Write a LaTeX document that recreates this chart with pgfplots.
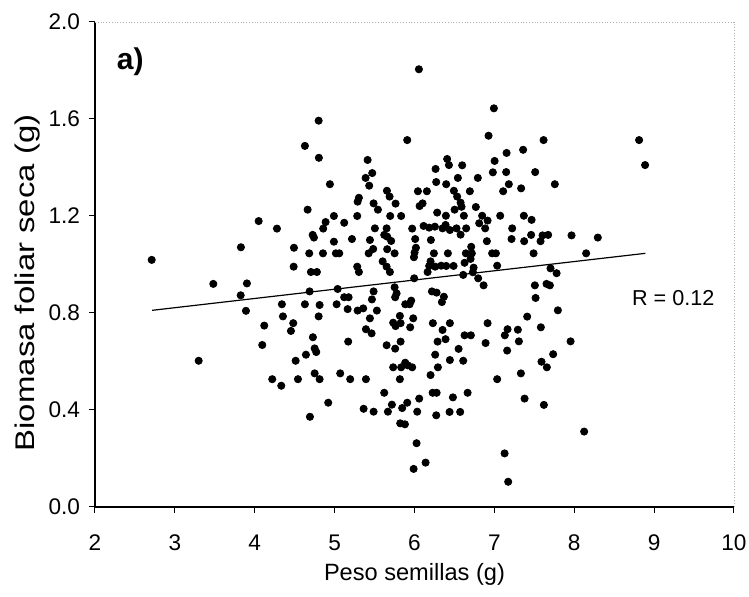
\documentclass[border=0pt]{standalone}
\usepackage{fontspec}
\setmainfont{Liberation Sans}
\newfontfamily\ylabfont{Liberation Sans}[FakeStretch=1.22]
\usepackage{pgfplots}
\usepackage{pgfplotstable}
\pgfplotsset{compat=1.18}
\pgfplotstableread{
x y
6.055 1.805
4.800 1.593
4.628 1.489
4.803 1.440
5.909 1.513
5.413 1.431
5.471 1.377
5.388 1.357
5.433 1.325
4.941 1.331
6.264 1.394
6.272 1.340
6.043 1.302
6.155 1.302
5.655 1.304
5.688 1.280
5.304 1.275
5.288 1.259
5.488 1.252
5.763 1.251
6.101 1.252
6.064 1.241
4.662 1.226
5.542 1.226
6.284 1.214
4.991 1.200
5.283 1.200
5.696 1.200
5.833 1.200
5.120 1.172
4.887 1.175
4.857 1.148
5.504 1.149
5.651 1.149
5.971 1.148
6.114 1.159
6.184 1.152
6.255 1.156
4.725 1.122
4.741 1.111
5.621 1.122
5.658 1.115
5.217 1.105
5.442 1.101
5.708 1.097
6.009 1.105
6.205 1.101
4.991 1.094
4.491 1.069
5.658 1.063
6.018 1.069
4.682 1.046
4.854 1.046
5.016 1.046
5.058 1.046
5.483 1.064
5.426 1.046
5.751 1.046
6.001 1.049
6.243 1.046
5.993 1.030
4.487 0.991
4.703 0.969
4.778 0.969
5.283 0.991
5.304 0.969
5.601 1.013
5.651 0.991
5.692 0.969
6.201 1.013
6.184 0.994
6.259 0.991
6.164 0.969
5.996 0.943
6.994 1.644
6.927 1.531
7.616 1.513
7.360 1.473
7.153 1.460
6.409 1.435
6.431 1.410
6.597 1.409
7.003 1.427
6.981 1.380
7.148 1.381
7.511 1.381
6.543 1.357
6.793 1.357
6.397 1.331
7.181 1.331
7.757 1.331
7.335 1.314
7.110 1.302
6.493 1.304
6.693 1.302
6.534 1.280
6.577 1.255
6.589 1.238
6.768 1.237
6.502 1.226
6.618 1.201
6.393 1.201
6.847 1.201
6.915 1.181
7.073 1.201
7.369 1.201
7.466 1.184
6.810 1.170
6.389 1.163
6.351 1.149
6.443 1.142
6.526 1.149
6.647 1.149
6.885 1.149
7.223 1.149
6.577 1.123
7.460 1.122
7.603 1.120
7.673 1.122
7.215 1.105
7.373 1.096
7.578 1.096
7.966 1.120
8.295 1.111
6.906 1.096
6.710 1.073
6.418 1.046
6.643 1.046
6.718 1.046
6.972 1.046
7.019 1.046
7.491 1.046
8.149 1.046
6.702 1.023
6.627 1.007
6.334 0.995
6.397 0.994
6.489 0.994
7.035 0.995
6.740 0.987
6.731 0.968
7.703 0.984
7.779 0.964
6.610 0.957
6.797 0.943
4.687 0.889
5.038 0.899
5.488 0.889
5.751 0.906
5.776 0.881
5.758 0.865
6.218 0.889
6.277 0.884
4.340 0.836
4.628 0.836
4.812 0.833
5.025 0.836
5.120 0.865
5.175 0.865
5.467 0.856
5.163 0.816
5.288 0.810
5.358 0.819
5.529 0.810
5.884 0.836
5.939 0.836
5.959 0.851
4.353 0.786
4.800 0.786
5.442 0.778
5.817 0.788
5.984 0.778
4.482 0.758
4.453 0.726
5.733 0.760
5.763 0.746
5.826 0.758
5.946 0.741
6.230 0.758
5.392 0.733
5.463 0.716
4.728 0.700
5.170 0.682
5.826 0.682
6.289 0.682
5.651 0.667
5.758 0.653
4.750 0.654
4.770 0.639
4.641 0.628
4.512 0.603
6.259 0.628
5.733 0.576
5.833 0.576
5.884 0.595
5.917 0.584
5.971 0.576
6.293 0.576
4.750 0.551
4.812 0.527
5.070 0.551
4.541 0.527
5.195 0.527
5.392 0.527
5.817 0.527
6.201 0.544
4.332 0.500
5.621 0.471
6.227 0.471
6.277 0.471
4.920 0.430
6.059 0.447
5.717 0.422
5.909 0.430
5.363 0.405
5.488 0.393
5.667 0.393
5.846 0.408
6.034 0.393
6.272 0.378
4.691 0.372
5.821 0.345
5.880 0.341
6.026 0.263
6.139 0.183
5.989 0.157
6.865 0.914
7.507 0.914
7.653 0.920
7.695 0.914
7.516 0.862
6.368 0.867
6.343 0.845
7.795 0.811
7.411 0.785
6.443 0.758
6.915 0.758
6.351 0.730
7.165 0.733
7.131 0.708
7.294 0.731
7.582 0.741
6.627 0.708
6.706 0.708
6.389 0.692
6.890 0.676
7.307 0.683
7.954 0.683
6.552 0.652
7.160 0.645
7.736 0.630
6.443 0.606
6.610 0.603
7.590 0.599
7.657 0.576
7.035 0.527
7.332 0.551
6.481 0.452
6.665 0.471
7.378 0.447
7.620 0.421
6.439 0.392
6.572 0.392
8.124 0.311
7.128 0.221
7.173 0.104
8.812 1.513
8.887 1.410
2.710 1.019
3.827 1.071
4.049 1.179
4.278 1.148
3.481 0.920
3.902 0.922
3.824 0.873
3.890 0.809
3.298 0.603
4.119 0.748
4.094 0.668
4.219 0.527
}\seeds
\begin{document}
\begin{tikzpicture}
\begin{axis}[
  scale only axis, width=319.5pt, height=242.5pt,
  xmin=2, xmax=10, ymin=0, ymax=2,
  axis x line*=bottom, axis y line*=left,
  axis line style={line width=0.6pt, -},
  xtick={2,3,4,5,6,7,8,9,10},
  ytick={0,0.4,0.8,1.2,1.6,2.0},
  /pgf/number format/assume math mode=true,
  tick align=outside, major tick length=3pt,
  tick style={black, line width=0.5pt},
  ticklabel style={font=\fontsize{11.3}{13}\selectfont},
  xticklabel style={yshift=-7.5pt},
  yticklabel style={xshift=-1pt, /pgf/number format/fixed, /pgf/number format/fixed zerofill, /pgf/number format/precision=1},
  xlabel={Peso semillas (g)},
  ylabel={\ylabfont Biomasa foliar seca (g)},
  xlabel style={at={(axis description cs:0.5,-0.138)}, anchor=center, font=\fontsize{11.8}{14}\selectfont},
  ylabel style={at={(axis description cs:-0.1049,0.462)}, anchor=center, font=\fontsize{13.5}{15}\selectfont},
  clip=false,
]
\addplot[black, line width=0.6pt] coordinates {(2.716,0.811) (8.89,1.046)};
\addplot[only marks, mark=*, mark size=1.8pt, black] table[x=x, y=y] {\seeds};
\draw[gray!60, densely dotted, line width=0.4pt] (rel axis cs:0,1) -- (rel axis cs:1,1) -- (rel axis cs:1,0);
\node[anchor=west, inner sep=0pt, font=\bfseries\fontsize{15}{17}\selectfont] at (axis cs:2.27,1.835) {a)};
\node[anchor=west, inner sep=0pt, font=\fontsize{10.8}{13}\selectfont] at (axis cs:8.72,0.862) {R = 0.12};
\end{axis}
\pgfresetboundingbox
\path[use as bounding box] ([shift={(-47.5pt,-45pt)}]current axis.south west) rectangle ([shift={(7.5pt,11pt)}]current axis.north east);
\end{tikzpicture}
\end{document}
